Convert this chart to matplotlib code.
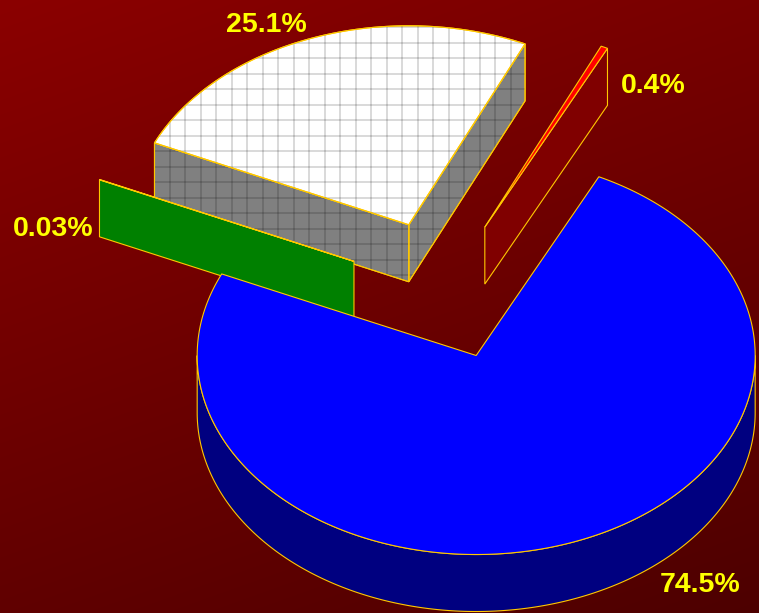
import numpy as np
import matplotlib.pyplot as plt
import matplotlib.colors as mcolors
from matplotlib.patches import Polygon
from matplotlib.collections import LineCollection

# slice values (percent), counter-clockwise from the start angle
values = [74.5, 0.4, 25.1, 0.03]
face_colors = ['#0000FF', '#FF0000', '#FFFFFF', '#00FF00']
hatched = [False, False, True, False]

# label anchors (x centre, baseline) in pixels
label_xy = [(700, 592), (653.5, 93), (266, 32), (53.3, 236)]

W, H = 759, 613
CX, CY = 443, 290          # pie centre
RX, RY = 279, 199          # ellipse radii of the top face
DEPTH = 57                 # thickness of the pie
EXPLODE = 0.35             # every slice pulled out by this fraction of the radius
START = 155.8
EDGE = '#FFC800'
GRID = 15.5


def shade(c, f=0.5):
    return tuple(v * f for v in mcolors.to_rgb(c))


def pt(apex, a, r=1.0, z=0.0):
    t = np.radians(a)
    return (apex[0] + r * RX * np.cos(t), apex[1] - r * RY * np.sin(t) + z)


def arc(apex, a1, a2, z=0.0):
    n = max(int(abs(a2 - a1) * 2), 2)
    t = np.linspace(a1, a2, n)
    return [pt(apex, a, 1.0, z) for a in t]


fig = plt.figure(figsize=(W / 100, H / 100), dpi=100)
ax = fig.add_axes([0, 0, 1, 1])

# dark red background, lighter at the top-left corner
xx, yy = np.meshgrid(np.arange(W), np.arange(H))
red = (139 - 0.025 * xx - 0.07 * yy) / 255.0
bg = np.dstack([red, np.zeros_like(red), np.zeros_like(red)])
ax.imshow(bg, extent=[0, W, H, 0], origin='upper', aspect='auto', zorder=0)


def add_poly(points, fc, hatch=False, z=1):
    p = Polygon(points, closed=True, facecolor=fc, edgecolor=EDGE,
                linewidth=0.8, joinstyle='miter', zorder=z)
    ax.add_patch(p)
    if hatch:
        segs = [[(x, 0), (x, H)] for x in np.arange(-1, W, GRID)]
        segs += [[(0, y), (W, y)] for y in np.arange(-4, H, GRID)]
        lc = LineCollection(segs, colors=[(0, 0, 0, 0.15)], linewidths=1.4, zorder=z)
        ax.add_collection(lc)
        lc.set_clip_path(p)
        # redraw the outline above the grid
        ax.add_patch(Polygon(points, closed=True, facecolor='none', edgecolor=EDGE,
                             linewidth=0.8, zorder=z))


spans = np.array(values) / sum(values) * 360.0
starts = START + np.concatenate([[0], np.cumsum(spans)[:-1]])

slices = []
for i, (a1, sp) in enumerate(zip(starts, spans)):
    a2 = a1 + sp
    mid = (a1 + a2) / 2
    apex = pt((CX, CY), mid, EXPLODE)
    slices.append(dict(i=i, a1=a1, a2=a2, apex=apex))

# paint back-to-front
slices.sort(key=lambda s: s['apex'][1])

zo = 1
for s in slices:
    i, a1, a2, apex = s['i'], s['a1'], s['a2'], s['apex']
    side = shade(face_colors[i])
    # radial cut faces that face the viewer
    for a, visible in ((a1, np.cos(np.radians(a1)) > 0), (a2, np.cos(np.radians(a2)) < 0)):
        if visible:
            o_top = pt(apex, a)
            o_bot = pt(apex, a, 1.0, DEPTH)
            quad = [apex, o_top, o_bot, (apex[0], apex[1] + DEPTH)]
            add_poly(quad, side, hatched[i], zo)
            zo += 1
    # front part of the curved rim
    for k in range(-1, 3):
        lo, hi = max(a1, 180 + 360 * k), min(a2, 360 + 360 * k)
        if hi > lo:
            wall = arc(apex, lo, hi) + arc(apex, hi, lo, DEPTH)
            add_poly(wall, side, hatched[i], zo)
            zo += 1
    # top face
    add_poly([apex] + arc(apex, a1, a2), face_colors[i], hatched[i], zo)
    zo += 1

for v, (x, y) in zip(values, label_xy):
    ax.text(x, y, f'{v:g}%', ha='center', va='baseline', color='#FFFF00',
            fontsize=20.5, fontweight='bold', family='Liberation Sans', zorder=zo + 1)

ax.set_xlim(0, W)
ax.set_ylim(H, 0)
ax.axis('off')

fig.savefig('out.png', dpi=100)
plt.close(fig)
